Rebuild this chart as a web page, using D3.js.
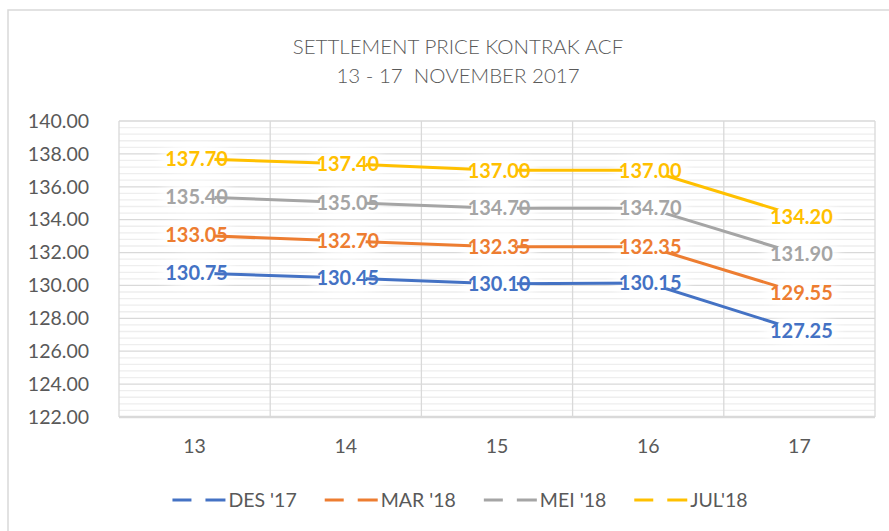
<!DOCTYPE html>
<html>
<head>
<meta charset="utf-8">
<script src="https://cdn.jsdelivr.net/npm/d3@7"></script>
<style>
  body { margin: 0; background: #fff; }
  text { font-family: Lato, Carlito, Calibri, sans-serif; }
</style>
</head>
<body>
<div id="chart"></div>
<script>
// data
var days = ["13", "14", "15", "16", "17"];
var seriesNames = ["DES '17", "MAR '18", "MEI '18", "JUL'18"];
var des17 = [130.75, 130.45, 130.10, 130.15, 127.25];
var mar18 = [133.05, 132.70, 132.35, 132.35, 129.55];
var mei18 = [135.40, 135.05, 134.70, 134.70, 131.90];
var jul18 = [137.70, 137.40, 137.00, 137.00, 134.20];
var yTicks = [122, 124, 126, 128, 130, 132, 134, 136, 138, 140];
var colors = ["#4472C4", "#ED7D31", "#A5A5A5", "#FFC000"];

var series = [des17, mar18, mei18, jul18].map(function(v, i) {
  return {name: seriesNames[i], color: colors[i],
          values: v.map(function(d, j) { return {day: days[j], value: d}; })};
});

var W = 889, H = 531;
var margin = {top: 121, right: 14, bottom: 114, left: 119},
    width = W - margin.left - margin.right,
    height = H - margin.top - margin.bottom;

var svg = d3.select("#chart").append("svg")
    .attr("width", W)
    .attr("height", H);

// outer chart frame
svg.append("rect")
    .attr("x", 8).attr("y", 10)
    .attr("width", W + 20).attr("height", H + 20)
    .attr("fill", "none")
    .attr("stroke", "#D9D9D9")
    .attr("stroke-width", 1.5);

var defs = svg.append("defs");
defs.append("filter").attr("id", "soft")
    .attr("x", "-50%").attr("y", "-50%").attr("width", "200%").attr("height", "200%")
  .append("feGaussianBlur").attr("stdDeviation", 4);

// title
var title = svg.append("text")
    .attr("x", 458)
    .attr("fill", "#595959")
    .attr("font-size", 20.5)
    .attr("font-weight", 300)
    .attr("text-anchor", "middle")
    .style("white-space", "pre");
title.append("tspan").attr("x", 458).attr("y", 54).text("SETTLEMENT PRICE KONTRAK ACF");
title.append("tspan").attr("x", 458).attr("y", 83).text("13 - 17  NOVEMBER 2017");

var g = svg.append("g")
    .attr("transform", "translate(" + margin.left + "," + margin.top + ")");

var x = d3.scaleBand()
    .domain(days)
    .range([0, width]);

var y = d3.scaleLinear()
    .domain([122, 140])
    .range([height, 0]);

// minor gridlines
var minor = d3.range(122, 140, 0.4).filter(function(d) {
  return Math.abs(Math.round(d / 2) * 2 - d) > 0.01;
});
g.append("g").selectAll("line")
  .data(minor)
  .enter().append("line")
    .attr("x1", 0).attr("x2", width)
    .attr("y1", function(d) { return y(d); })
    .attr("y2", function(d) { return y(d); })
    .attr("stroke", "#EEEEEE")
    .attr("stroke-width", 1.3);

// major gridlines
g.append("g").selectAll("line")
  .data(yTicks)
  .enter().append("line")
    .attr("x1", 0).attr("x2", width)
    .attr("y1", function(d) { return y(d); })
    .attr("y2", function(d) { return y(d); })
    .attr("stroke", "#D9D9D9")
    .attr("stroke-width", function(d) { return d === 122 ? 2.5 : 1.3; });

// vertical gridlines at category edges
var edges = days.map(function(d) { return x(d); }).concat([width]);
g.append("g").selectAll("line")
  .data(edges)
  .enter().append("line")
    .attr("x1", function(d) { return d; })
    .attr("x2", function(d) { return d; })
    .attr("y1", 0).attr("y2", height)
    .attr("stroke", "#D9D9D9")
    .attr("stroke-width", 1.3);

// y axis labels
var yAxis = g.append("g")
    .attr("transform", "translate(-27,0)")
    .call(d3.axisLeft(y).tickValues(yTicks).tickFormat(d3.format(".2f")).tickSize(0));
yAxis.select(".domain").remove();
yAxis.selectAll("text")
    .attr("fill", "#595959")
    .attr("font-size", 19.5)
    .attr("font-family", "Lato, sans-serif");

// x axis labels
var xAxis = g.append("g")
    .attr("transform", "translate(0," + height + ")")
    .call(d3.axisBottom(x).tickSize(0).tickPadding(22));
xAxis.select(".domain").remove();
xAxis.selectAll("text")
    .attr("fill", "#595959")
    .attr("font-size", 19.5)
    .attr("font-family", "Lato, sans-serif");

var cx = function(d) { return x(d.day) + x.bandwidth() / 2; };

// white glow behind labels
series.forEach(function(s) {
  g.append("g").selectAll("ellipse")
    .data(s.values)
    .enter().append("ellipse")
      .attr("cx", function(d) { return cx(d) + 2; })
      .attr("cy", function(d) { return y(d.value); })
      .attr("rx", 38).attr("ry", 14)
      .attr("fill", "#fff")
      .attr("filter", "url(#soft)");
});

// data labels
series.forEach(function(s) {
  g.append("g").selectAll("text")
    .data(s.values)
    .enter().append("text")
      .attr("x", function(d) { return cx(d) + 2; })
      .attr("y", function(d) { return y(d.value); })
      .attr("dy", "0.36em")
      .attr("text-anchor", "middle")
      .attr("font-size", 20)
      .attr("font-weight", "bold")
      .attr("fill", s.color)
      .text(function(d) { return d3.format(".2f")(d.value); });
});

// mask that hides the line around each point
var mask = defs.append("mask").attr("id", "gaps")
    .attr("maskUnits", "userSpaceOnUse")
    .attr("x", -margin.left).attr("y", -margin.top).attr("width", W).attr("height", H);
mask.append("rect")
    .attr("x", -margin.left).attr("y", -margin.top)
    .attr("width", W).attr("height", H)
    .attr("fill", "#fff");
series.forEach(function(s) {
  mask.selectAll(null)
    .data(s.values)
    .enter().append("ellipse")
      .attr("cx", function(d) { return cx(d) - 3; })
      .attr("cy", function(d) { return y(d.value); })
      .attr("rx", 23).attr("ry", 12)
      .attr("fill", "#000");
});

var line = d3.line()
    .x(cx)
    .y(function(d) { return y(d.value); });

g.append("g").attr("mask", "url(#gaps)")
  .selectAll("path")
  .data(series)
  .enter().append("path")
    .attr("d", function(s) { return line(s.values); })
    .attr("fill", "none")
    .attr("stroke", function(s) { return s.color; })
    .attr("stroke-width", 3)
    .attr("stroke-linecap", "round");

// legend
var legend = svg.append("g").attr("transform", "translate(0,500)");
var items = legend.selectAll("g")
  .data(series)
  .enter().append("g");
items.append("line")
    .attr("x1", 0).attr("x2", 19)
    .attr("stroke", function(s) { return s.color; })
    .attr("stroke-width", 3);
items.append("line")
    .attr("x1", 33).attr("x2", 53)
    .attr("stroke", function(s) { return s.color; })
    .attr("stroke-width", 3);
items.append("text")
    .attr("x", 56)
    .attr("dy", "0.36em")
    .attr("font-size", 19.5)
    .attr("fill", "#595959")
    .text(function(s) { return s.name; });

var pos = 0, starts = [];
items.each(function() {
  starts.push(pos);
  pos += 56 + d3.select(this).select("text").node().getComputedTextLength() + 28;
});
var total = pos - 28;
var x0 = 460 - total / 2;
items.attr("transform", function(s, i) { return "translate(" + (x0 + starts[i]) + ",0)"; });
</script>
</body>
</html>
